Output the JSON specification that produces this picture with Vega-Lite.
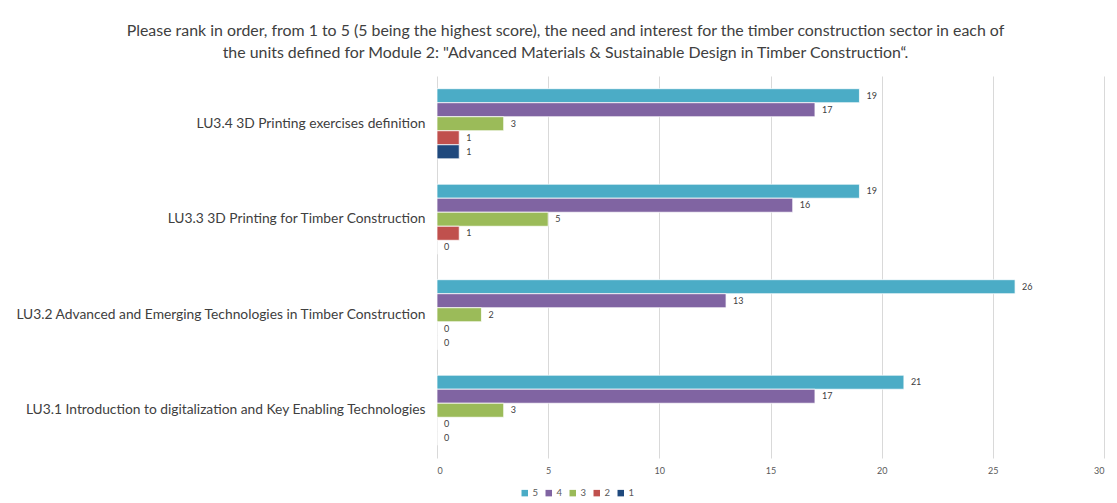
{
  "$schema": "https://vega.github.io/schema/vega-lite/v6.json",
  "width": 667,
  "height": 382,
  "autosize": {"type": "none"},
  "padding": {"left": 437, "top": 76, "right": 13, "bottom": 45},
  "background": "white",
  "title": {
    "text": ["Please rank in order, from 1 to 5 (5 being the highest score), the need and interest for the timber construction sector in each of", "the units defined for Module 2: \"Advanced Materials & Sustainable Design in Timber Construction“."],
    "anchor": "middle",
    "dx": -205,
    "font": "Lato",
    "fontSize": 15.9,
    "fontWeight": "normal",
    "lineHeight": 22,
    "color": "#404040",
    "offset": 15
  },
  "config": {
    "view": {"stroke": null},
    "font": "Lato"
  },
  "data": {
    "values": [
      {"unit": "LU3.4 3D Printing exercises definition", "score": "5", "count": 19},
      {"unit": "LU3.4 3D Printing exercises definition", "score": "4", "count": 17},
      {"unit": "LU3.4 3D Printing exercises definition", "score": "3", "count": 3},
      {"unit": "LU3.4 3D Printing exercises definition", "score": "2", "count": 1},
      {"unit": "LU3.4 3D Printing exercises definition", "score": "1", "count": 1},
      {"unit": "LU3.3 3D Printing for Timber Construction", "score": "5", "count": 19},
      {"unit": "LU3.3 3D Printing for Timber Construction", "score": "4", "count": 16},
      {"unit": "LU3.3 3D Printing for Timber Construction", "score": "3", "count": 5},
      {"unit": "LU3.3 3D Printing for Timber Construction", "score": "2", "count": 1},
      {"unit": "LU3.3 3D Printing for Timber Construction", "score": "1", "count": 0},
      {"unit": "LU3.2 Advanced and Emerging Technologies in Timber Construction", "score": "5", "count": 26},
      {"unit": "LU3.2 Advanced and Emerging Technologies in Timber Construction", "score": "4", "count": 13},
      {"unit": "LU3.2 Advanced and Emerging Technologies in Timber Construction", "score": "3", "count": 2},
      {"unit": "LU3.2 Advanced and Emerging Technologies in Timber Construction", "score": "2", "count": 0},
      {"unit": "LU3.2 Advanced and Emerging Technologies in Timber Construction", "score": "1", "count": 0},
      {"unit": "LU3.1 Introduction to digitalization and Key Enabling Technologies", "score": "5", "count": 21},
      {"unit": "LU3.1 Introduction to digitalization and Key Enabling Technologies", "score": "4", "count": 17},
      {"unit": "LU3.1 Introduction to digitalization and Key Enabling Technologies", "score": "3", "count": 3},
      {"unit": "LU3.1 Introduction to digitalization and Key Enabling Technologies", "score": "2", "count": 0},
      {"unit": "LU3.1 Introduction to digitalization and Key Enabling Technologies", "score": "1", "count": 0}
    ]
  },
  "encoding": {
    "y": {
      "field": "unit",
      "type": "nominal",
      "sort": null,
      "scale": {"paddingInner": 0.266, "paddingOuter": 0.133},
      "axis": {
        "title": null,
        "domain": false,
        "ticks": false,
        "labelPadding": 12,
        "labelFontSize": 13.8,
        "labelColor": "#404040",
        "labelLimit": 500
      }
    },
    "yOffset": {
      "field": "score",
      "type": "nominal",
      "sort": ["5", "4", "3", "2", "1"],
      "scale": {"paddingInner": 0, "paddingOuter": 0}
    },
    "x": {
      "field": "count",
      "type": "quantitative",
      "scale": {"domain": [0, 30], "nice": false},
      "axis": {
        "title": null,
        "values": [0, 5, 10, 15, 20, 25, 30],
        "domain": false,
        "ticks": false,
        "grid": true,
        "gridColor": "#d9d9d9",
        "labelPadding": 8,
        "labelFontSize": 9,
        "labelColor": "#595959"
      }
    }
  },
  "layer": [
    {
      "mark": {"type": "bar", "stroke": "white", "strokeWidth": 0.75},
      "encoding": {
        "color": {
          "field": "score",
          "type": "nominal",
          "scale": {"domain": ["5", "4", "3", "2", "1"], "range": ["#4BACC6", "#8064A2", "#9BBB59", "#C0504D", "#1F497D"]},
          "legend": {
            "title": null,
            "orient": "none",
            "direction": "horizontal",
            "legendX": 83,
            "legendY": 412,
            "symbolType": "square",
            "symbolSize": 42,
            "symbolStrokeWidth": 0,
            "labelFontSize": 9.5,
            "labelColor": "#595959",
            "labelOffset": 3,
            "columnPadding": 5
          }
        }
      }
    },
    {
      "mark": {"type": "text", "align": "left", "dx": 7, "fontSize": 9, "color": "#404040"},
      "encoding": {"text": {"field": "count", "type": "quantitative"}}
    }
  ]
}
